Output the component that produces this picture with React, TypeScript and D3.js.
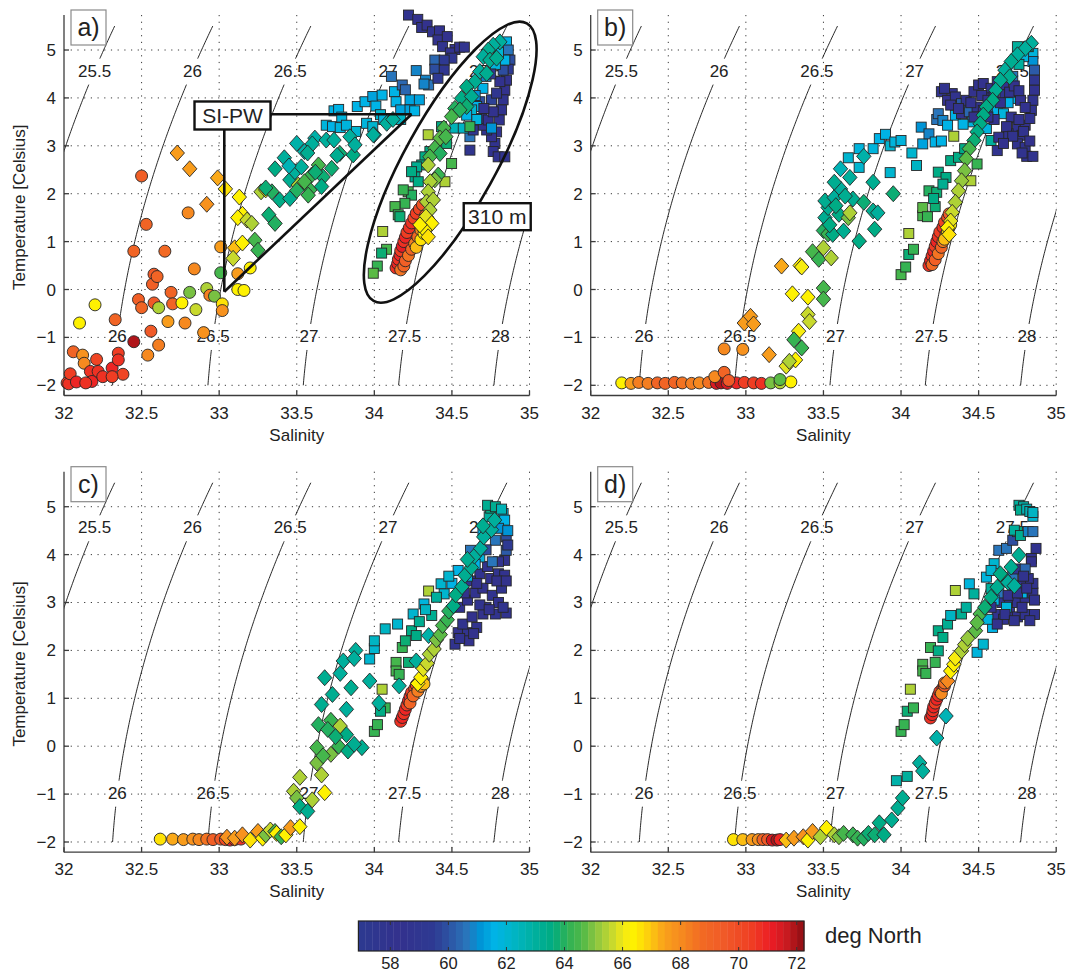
import * as d3 from "d3";

type Pt = [number, number, number]; // salinity, temperature, latitude (deg N)

const W = 1068;
const H = 973;
const PANEL_W = 465.5;
const PANEL_H = 380.5;
const FONT = '"Liberation Sans", Arial, Helvetica, sans-serif';
const INK = "#222";

const S_DOMAIN: [number, number] = [32, 35];
const T_DOMAIN: [number, number] = [-2.213, 5.731];
const S_TICKS = [32, 32.5, 33, 33.5, 34, 34.5, 35];
const T_TICKS = [-2, -1, 0, 1, 2, 3, 4, 5];
const SIGMA_LEVELS = [25.5, 26, 26.5, 27, 27.5, 28];
const SIGMA_T_RANGE: [number, number] = [-2, 5.5];
const LABEL_T = [4.57, -0.97];

const LAT_DOMAIN: [number, number] = [56.9, 72.25];
const LAT_TICKS = [58, 60, 62, 64, 66, 68, 70, 72];
const CMAP_STOPS = [56.9, 58.3, 59.5, 60.0, 60.6, 61.1, 61.6, 62.2, 62.9, 63.6, 64.1, 64.6, 65.1, 65.6, 66.05, 66.4, 66.9, 67.4, 68.0, 68.7, 69.5, 70.4, 71.1, 71.6, 72.25];
const CMAP_COLORS = ["#2c3a90", "#33318d", "#2e3a92", "#2d52a2", "#2a74ba", "#0094d6", "#00b4e7", "#00b5c8", "#00b0a2", "#00ab80", "#2eb155", "#4fb848", "#8dc63f", "#c2d730", "#f5ea14", "#fff200", "#fdcd0e", "#f9a31b", "#f68b1f", "#f26b23", "#f05a28", "#ef4023", "#ec1c24", "#cc1b21", "#8e0e12"];

// ---------- panel a
const A_CIRCLES: Pt[] = [
  [32.02, -1.95, 70.5], [32.03, -1.97, 70.8], [32.04, -1.76, 70.5], [32.08, -1.93, 71], [32.06, -1.3, 69],
  [32.12, -1.37, 67.8], [32.13, -1.54, 68], [32.1, -0.7, 66.4], [32.2, -0.32, 66.3], [32.21, -1.46, 70.2],
  [32.17, -1.71, 70.6], [32.18, -1.92, 71], [32.22, -1.71, 70.6], [32.25, -1.82, 70.8], [32.31, -1.64, 70.9],
  [32.35, -1.33, 70.4], [32.35, -1.47, 70.6], [32.38, -1.77, 70.3], [32.31, -1.82, 70.5], [32.14, -1.95, 70.6],
  [32.33, -0.63, 69], [32.45, -1.09, 72],
  [32.5, 2.37, 69.3], [32.53, 1.36, 69], [32.45, 0.8, 69], [32.48, -0.21, 69.2], [32.5, -0.38, 69],
  [32.58, 0.32, 69.5], [32.57, 0.11, 69.3], [32.6, 0.27, 69], [32.58, -0.28, 69.4], [32.56, -0.87, 69.5],
  [32.54, -1.37, 68], [32.61, -1.16, 68.2], [32.61, -0.38, 65.5], [32.65, 0.8, 68.7], [32.69, -0.06, 69],
  [32.7, -0.3, 69], [32.67, -0.67, 67.6], [32.76, -0.28, 66.4], [32.78, -0.7, 68], [32.81, -0.06, 65],
  [32.8, 1.6, 68], [32.84, 0.43, 68], [32.85, -0.42, 65.6], [32.9, -0.9, 67.8], [32.92, 0.02, 65.3],
  [32.94, -0.12, 68.3], [32.97, -0.14, 65], [33.01, 0.89, 67.5], [33.01, 0.35, 64.5], [33.02, -0.3, 66.6],
  [33.02, -0.44, 67.8], [33.12, 0.33, 67.5], [33.12, 0, 66.3], [33.16, -0.02, 66.3], [33.2, 0.45, 66.3],
  [34.14, 0.45, 70.8], [34.15, 0.54, 71], [34.155, 0.63, 70.6], [34.165, 0.72, 70.9], [34.17, 0.81, 70.5],
  [34.18, 0.9, 71.1], [34.19, 1.0, 70.7], [34.2, 1.09, 70.9], [34.21, 1.19, 70.5], [34.225, 1.29, 70.8],
  [34.24, 1.39, 70.6], [34.255, 1.49, 70.3], [34.27, 1.59, 70.5], [34.29, 1.68, 70.2], [34.31, 1.77, 69.8],
  [34.17, 0.41, 68.6], [34.19, 0.49, 68.9], [34.2, 0.6, 69.3], [34.22, 0.71, 68.5], [34.24, 0.84, 69],
  [34.26, 0.96, 68.3], [34.28, 1.1, 68.7], [34.3, 1.24, 68], [34.32, 1.41, 68.4], [34.33, 1.55, 69.2],
  [34.27, 0.88, 67.1], [34.3, 1.04, 66.5], [34.32, 1.17, 66.4], [34.34, 1.3, 66.8], [34.35, 1.44, 67.3],
];

const A_DIAMONDS: Pt[] = [
  [32.73, 2.85, 67.5], [32.81, 2.52, 67.6], [32.92, 1.78, 67.7], [32.99, 2.33, 67.3], [33.04, 2.1, 66.6],
  [33.13, 1.93, 66.4], [33.15, 1.57, 66.3], [33.12, 1.5, 66.4], [33.18, 1.45, 65.6], [33.21, 1.38, 65.5],
  [33.1, 0.87, 67.2], [33.15, 0.97, 66.3], [33.09, 0.65, 65.6], [33.23, 1.03, 64.5], [33.25, 0.82, 64.3],
  [33.27, 2.04, 65.5], [33.3, 2.08, 65.8], [33.34, 2.04, 64], [33.32, 1.56, 63.8], [33.36, 1.38, 64],
  [33.39, 1.87, 63.5], [33.456, 1.9, 63.3], [33.456, 2.29, 63.2], [33.51, 2.18, 65.3], [33.488, 2.46, 63],
  [33.53, 2.56, 63], [33.55, 2.88, 62.8], [33.617, 3.16, 62.7], [33.69, 3.12, 63], [33.596, 2.39, 64.2],
  [33.64, 2.6, 64.4], [33.67, 2.35, 63.8], [33.725, 2.53, 63.8], [33.585, 2.08, 64.2], [33.574, 1.97, 64.2],
  [33.66, 2.15, 63.6], [33.778, 2.84, 63.8], [33.864, 2.81, 63.6], [33.843, 3.19, 63], [33.875, 3.02, 63],
  [34.0, 3.23, 62.8], [34.08, 3.47, 63], [33.993, 3.23, 63], [34.12, 3.55, 63],
  [33.36, 2.52, 63.5], [33.42, 2.75, 63], [33.45, 2.58, 62.5], [33.5, 3.05, 62.8], [33.6, 3.04, 63],
  [33.57, 2.85, 63.3], [33.5, 2.07, 64], [33.55, 2.25, 64.5], [33.62, 2.45, 63.8], [33.74, 3.12, 63],
  [33.76, 2.8, 63.3], [33.3, 2.12, 63.8],
  [34.809, 5.17, 63], [34.766, 5.1, 63], [34.734, 5.0, 63.2], [34.702, 4.86, 63], [34.745, 4.79, 63.3],
  [34.788, 4.83, 63.3], [34.68, 4.55, 63], [34.724, 4.51, 63.2], [34.648, 4.34, 63.2], [34.595, 4.23, 63.5],
  [34.562, 3.99, 63.5], [34.627, 4.03, 63.2], [34.595, 3.82, 63.8], [34.519, 3.78, 64], [34.551, 3.75, 64],
  [34.498, 3.61, 64.5], [34.448, 3.37, 64.5], [34.423, 3.16, 64.8], [34.461, 3.19, 64.5], [34.39, 2.95, 64.5],
  [34.423, 2.84, 64], [34.358, 2.77, 64.5], [34.347, 2.6, 65.5], [34.412, 2.39, 64.3], [34.39, 2.29, 65],
  [34.36, 2.25, 65.5], [34.347, 2.04, 65.5], [34.337, 1.83, 65.5], [34.38, 1.87, 65.3], [34.358, 1.66, 65.4],
  [34.332, 1.52, 65.8], [34.37, 1.38, 66.3], [34.326, 1.24, 66.4], [34.294, 1.35, 66.4], [34.347, 1.1, 66.6],
];

const A_SQUARES: Pt[] = [
  [33.69, 3.43, 61.8], [33.73, 3.4, 61.6], [33.74, 3.73, 61.5], [33.77, 3.76, 61.6], [33.79, 3.6, 61.8],
  [33.78, 3.38, 61.8], [33.88, 3.3, 62], [33.89, 3.82, 61.5], [33.94, 3.92, 61.5], [33.95, 3.47, 61.8],
  [33.82, 3.43, 61.8], [33.99, 3.4, 62], [33.99, 4.03, 61.4], [34.01, 3.83, 61.5], [34.05, 4.06, 61.5],
  [34.04, 3.65, 62], [34.06, 3.55, 61.8], [34.13, 4.13, 61.5], [34.14, 3.92, 61.5], [34.17, 3.75, 61.3],
  [34.23, 3.96, 61.3], [34.29, 3.96, 61.3], [34.23, 3.75, 61.3], [34.26, 3.73, 61.5], [34.13, 3.57, 61.8],
  [34.17, 3.55, 62.3], [34.11, 4.45, 60.6], [34.18, 4.27, 60.4], [34.2, 4.17, 60.3], [34.27, 4.57, 60.8],
  [34.33, 4.37, 60.8], [34.35, 4.27, 60.5], [34.32, 4.29, 60.8],
  [34.22, 5.73, 58], [34.28, 5.64, 58.2], [34.305, 5.47, 58], [34.34, 5.52, 58.3], [34.375, 5.38, 58],
  [34.42, 5.4, 58.5], [34.41, 5.21, 58.2], [34.47, 5.28, 58.5], [34.44, 5.07, 58], [34.52, 5.01, 58.3],
  [34.49, 4.94, 58.5], [34.55, 5.06, 58.5], [34.58, 5.06, 58.7], [34.5, 4.83, 59], [34.39, 4.79, 60.3],
  [34.45, 4.79, 59.5], [34.39, 4.6, 60], [34.45, 4.58, 59], [34.41, 4.41, 59.5],
  [34.852, 5.17, 61.5], [34.863, 5.0, 60.5], [34.874, 4.79, 60], [34.863, 4.6, 59.5], [34.852, 4.37, 58.5],
  [34.841, 4.16, 58.2], [34.83, 3.96, 58], [34.82, 3.75, 58], [34.805, 3.54, 58], [34.788, 3.29, 58],
  [34.777, 3.05, 58], [34.766, 2.88, 58], [34.798, 2.77, 58], [34.841, 2.77, 58], [34.755, 3.19, 58.2],
  [34.724, 3.33, 58], [34.702, 3.43, 58.3], [34.691, 3.57, 58], [34.734, 3.54, 58.5], [34.766, 3.71, 58.5],
  [34.755, 3.96, 59.7], [34.788, 4.1, 59], [34.809, 4.34, 58.5], [34.83, 4.58, 60], [34.841, 4.79, 61.5],
  [34.68, 3.92, 60], [34.659, 3.82, 61.5], [34.627, 3.75, 62], [34.66, 3.55, 61.8], [34.616, 3.19, 60.5],
  [34.637, 3.33, 59], [34.595, 3.64, 61.5], [34.755, 3.37, 61], [34.706, 3.78, 58.5], [34.616, 2.91, 57.8],
  [34.8, 4.95, 62], [34.78, 4.7, 61.8], [34.72, 4.45, 60.8], [34.7, 4.2, 61.5], [34.75, 4.5, 59.5], [34.65, 4.05, 61],
  [34.519, 3.37, 62.5], [34.573, 3.37, 62.3], [34.616, 3.4, 64.2], [34.433, 3.4, 63.5],
  [34.466, 3.05, 63.8], [34.358, 2.88, 63.5], [34.326, 2.77, 63.5], [34.305, 2.6, 63.5], [34.273, 2.56, 63.3],
  [34.262, 2.35, 63.3], [34.24, 2.46, 63.5], [34.283, 2.25, 63.5], [34.218, 2.04, 64.5], [34.24, 1.97, 64],
  [34.186, 2.08, 64.3], [34.197, 1.8, 64.2], [34.133, 1.73, 64.5], [34.154, 1.56, 64.2], [34.165, 1.52, 63.8],
  [34.498, 2.63, 64.5], [34.455, 2.25, 65.3], [34.347, 3.23, 65.5], [34.054, 1.21, 65.5], [34.079, 0.84, 64.5],
  [34.047, 0.76, 63.8], [34.019, 0.49, 64.3], [33.993, 0.34, 64.8],
];

// ---------- panel b
const B_CIRCLES: Pt[] = [
  [32.2, -1.95, 66.4], [32.26, -1.96, 67.5], [32.31, -1.94, 68.2], [32.37, -1.96, 68.3], [32.43, -1.95, 69],
  [32.48, -1.96, 69], [32.54, -1.94, 69], [32.59, -1.95, 68.5], [32.65, -1.96, 68.2], [32.7, -1.95, 68],
  [32.76, -1.94, 68.5], [32.81, -1.96, 71.5], [32.84, -1.95, 72], [32.88, -1.96, 71.5], [32.94, -1.95, 71],
  [32.99, -1.94, 70.5], [33.05, -1.95, 70.5], [33.1, -1.96, 70.8], [33.16, -1.95, 65], [33.22, -1.95, 65.5],
  [33.29, -1.93, 66.3], [32.8, -1.82, 68], [32.86, -1.73, 69], [32.89, -1.9, 69.5], [32.86, -1.24, 68],
  [32.98, -1.25, 67.8], [33.22, -1.88, 64.8],
  [34.18, 0.5, 70.8], [34.19, 0.6, 71], [34.2, 0.7, 70.6], [34.21, 0.8, 70.9], [34.22, 0.9, 70.5],
  [34.23, 1.0, 71], [34.24, 1.1, 70.7], [34.25, 1.2, 70.5], [34.27, 1.3, 70.8], [34.28, 1.4, 70.3],
  [34.3, 1.5, 70], [34.31, 1.58, 69.6], [34.2, 0.52, 68.8], [34.22, 0.62, 69.2], [34.24, 0.75, 68.5],
  [34.26, 0.88, 68.9], [34.27, 1.0, 68.3], [34.29, 1.15, 68.6], [34.31, 1.3, 68], [34.3, 1.2, 66.6],
  [34.32, 1.35, 66.4], [34.28, 1.05, 67.2],
];

const B_DIAMONDS: Pt[] = [
  [32.99, -0.7, 67.5], [33.03, -0.56, 67.5], [33.05, -0.72, 67.5], [33.15, -1.36, 67.5], [33.23, 0.49, 67.3],
  [33.3, -0.09, 66.3], [33.35, 0.5, 66.3], [33.36, 0.47, 66.2], [33.4, -0.16, 66.4], [33.4, -0.52, 65.6],
  [33.41, -0.67, 65.6], [33.34, -0.87, 66.2], [33.31, -1.05, 64.3], [33.36, -1.22, 64.3], [33.26, -1.6, 65.8],
  [33.32, -1.47, 66.3], [33.28, -1.5, 65.5], [33.5, 0.03, 64.5], [33.5, -0.2, 64.5], [33.43, 0.79, 64.5],
  [33.47, 0.63, 64.3], [33.5, 0.87, 65.3], [33.55, 0.66, 65.5], [33.5, 1.23, 64], [33.53, 1.16, 64.2],
  [33.51, 1.5, 63.3], [33.53, 1.71, 63.3], [33.51, 1.85, 63.2], [33.57, 1.92, 63], [33.61, 2.1, 63],
  [33.57, 2.24, 63.2], [33.61, 2.52, 62.5], [33.67, 2.34, 63], [33.56, 1.15, 63.5], [33.6, 1.57, 63.5],
  [33.63, 1.22, 63.2], [33.66, 1.5, 65], [33.67, 1.6, 65.3], [33.69, 1.89, 63.2], [33.76, 2.78, 62.8],
  [33.76, 1.82, 63.8], [33.73, 1.01, 63.5], [33.82, 2.24, 63.2], [33.82, 1.64, 63.2], [33.85, 1.6, 63],
  [33.83, 1.26, 63.5], [33.95, 2.0, 63.7], [33.54, 1.35, 63.4], [33.58, 1.75, 63.6], [33.64, 1.95, 63.2],
  [34.84, 5.14, 63], [34.8, 5.03, 63.1], [34.75, 4.9, 63], [34.71, 4.76, 63.2], [34.67, 4.58, 63],
  [34.7, 4.44, 63.2], [34.64, 4.37, 63.3], [34.61, 4.16, 63.2], [34.59, 3.95, 63.4], [34.55, 3.81, 63.5],
  [34.53, 3.64, 63.4], [34.51, 3.46, 63.6], [34.49, 3.29, 63.5], [34.47, 3.11, 63.8], [34.44, 2.94, 64.5],
  [34.42, 2.73, 64.8], [34.41, 2.48, 65], [34.39, 2.27, 65.2], [34.37, 2.06, 65.4], [34.35, 1.82, 65.5],
  [34.33, 1.61, 65.6], [34.32, 1.43, 66], [34.3, 1.29, 66.4], [34.31, 1.15, 66.5],
];

const B_SQUARES: Pt[] = [
  [33.66, 2.75, 62], [33.73, 2.94, 61.8], [33.73, 2.55, 62], [33.82, 2.94, 61.8], [33.86, 3.15, 61.5],
  [33.9, 3.24, 61.5], [33.93, 3.0, 62], [33.93, 2.44, 62], [33.96, 3.08, 61.8], [34.0, 3.11, 61.8],
  [34.07, 2.85, 62], [34.1, 2.59, 62.3], [34.13, 3.39, 61], [34.14, 3.04, 61.3], [34.18, 3.25, 60.8],
  [34.22, 3.08, 61.5], [34.26, 3.1, 61.6], [34.23, 3.55, 60.5],
  [34.0, 0.31, 64.5], [34.03, 0.47, 64.3], [34.05, 0.73, 63.8], [34.08, 0.84, 64.2], [34.05, 1.17, 65.5],
  [34.14, 1.54, 64.5], [34.14, 1.71, 64.6], [34.17, 1.52, 64.2], [34.22, 1.73, 63.8], [34.18, 2.06, 64],
  [34.23, 2.03, 63.8], [34.24, 2.45, 63.5], [34.29, 2.34, 63.5], [34.32, 2.69, 63.6], [34.37, 2.76, 63.4],
  [34.34, 3.2, 65.5], [34.41, 2.94, 63.5], [34.49, 2.62, 64.2], [34.45, 2.27, 65.3], [34.27, 2.2, 63.3],
  [34.21, 1.9, 63.6],
  [34.26, 4.13, 58], [34.33, 4.09, 58.5], [34.3, 3.95, 58.2], [34.35, 4.02, 58], [34.39, 3.88, 60.2],
  [34.42, 3.95, 58], [34.47, 4.13, 58.3], [34.5, 4.27, 58], [34.53, 4.3, 58.2], [34.58, 4.2, 58],
  [34.62, 4.34, 58.4], [34.66, 4.23, 58], [34.24, 3.67, 60.5], [34.27, 3.53, 60.8], [34.3, 3.43, 61.5],
  [34.35, 3.64, 61.6], [34.39, 3.67, 58], [34.44, 3.71, 60.3], [34.49, 3.81, 58], [34.53, 3.74, 58.2],
  [34.58, 3.81, 60.3], [34.62, 3.74, 61.5], [34.66, 3.67, 61.7], [34.71, 3.6, 58], [34.75, 3.39, 58],
  [34.8, 3.43, 58.2], [34.78, 3.22, 58], [34.75, 3.04, 58], [34.8, 2.97, 58], [34.81, 2.78, 58],
  [34.85, 2.78, 58], [34.62, 2.9, 58], [34.69, 3.25, 58], [34.85, 4.93, 61.8], [34.85, 4.76, 61],
  [34.86, 4.58, 60.2], [34.86, 4.37, 59], [34.86, 4.16, 58.5], [34.85, 3.95, 58], [34.84, 3.74, 58],
  [34.83, 3.57, 58], [34.82, 5.07, 63.5], [34.75, 5.07, 63], [34.79, 4.86, 61.7], [34.76, 4.7, 63],
  [34.72, 4.45, 60.5], [34.67, 4.07, 58], [34.73, 3.99, 61.6], [34.77, 3.95, 58.3], [34.8, 3.8, 58.5],
  [34.69, 3.9, 61.5], [34.55, 3.36, 61.8], [34.58, 3.11, 63], [34.63, 3.18, 58], [34.46, 3.5, 61.8],
  [34.4, 3.45, 61.5], [34.57, 4.0, 58.2], [34.6, 3.55, 58.5],
  [34.28, 4.2, 58], [34.32, 3.85, 58.3], [34.37, 3.78, 58], [34.45, 3.9, 58.5], [34.52, 4.05, 58],
  [34.56, 3.95, 58.2], [34.6, 4.05, 58], [34.64, 3.9, 58.4], [34.7, 4.12, 58], [34.73, 4.25, 58.3],
  [34.76, 4.15, 58], [34.68, 3.4, 58.2], [34.72, 3.2, 58], [34.76, 3.55, 58.3], [34.79, 3.3, 58],
  [34.83, 3.1, 58.2], [34.78, 2.85, 58], [34.66, 3.05, 58.4], [34.56, 3.6, 58], [34.47, 3.6, 58.2],
];

// ---------- panel c
const C_CIRCLES: Pt[] = [
  [32.62, -1.94, 66.6], [32.7, -1.94, 67.3], [32.77, -1.95, 67.5], [32.83, -1.94, 67.8], [32.87, -1.95, 68],
  [32.92, -1.94, 68.5], [32.96, -1.95, 69.2], [33.01, -1.94, 69.5], [33.04, -1.95, 70], [33.07, -1.96, 71],
  [33.1, -1.95, 70.6], [33.14, -1.94, 70.8],
  [34.17, 0.52, 70.8], [34.18, 0.6, 71], [34.19, 0.68, 70.6], [34.2, 0.77, 70.9], [34.21, 0.86, 70.5],
  [34.22, 0.95, 71], [34.23, 1.04, 70.7], [34.24, 1.12, 70.5], [34.26, 1.2, 70.3], [34.27, 1.28, 70],
  [34.29, 1.35, 69.7], [34.23, 0.9, 69], [34.25, 1.05, 68.8], [34.28, 1.15, 68.4], [34.3, 1.25, 68],
  [34.31, 1.38, 68.5], [34.32, 1.3, 67],
];

const C_DIAMONDS: Pt[] = [
  [33.05, -1.9, 67.8], [33.1, -1.92, 67.5], [33.15, -1.85, 67.8], [33.2, -1.96, 66.5], [33.25, -1.78, 67.6],
  [33.28, -1.92, 66.4], [33.3, -1.85, 65], [33.33, -1.75, 65.6], [33.36, -1.78, 64.5], [33.37, -1.82, 66.4],
  [33.4, -1.89, 64.3], [33.43, -1.85, 66.3], [33.46, -1.7, 67.5], [33.52, -1.68, 66.3],
  [33.52, -0.65, 65.3], [33.48, -0.94, 65.3], [33.5, -1.08, 65], [33.52, -1.26, 63.5], [33.57, -1.36, 63.3],
  [33.6, -1.12, 65.5], [33.68, -0.97, 66.3], [33.66, -0.6, 65.5], [33.63, -0.35, 65], [33.63, -0.03, 64.5],
  [33.64, 0.45, 64], [33.72, 0.54, 64.3], [33.78, 0.42, 65.3], [33.77, 0.0, 64.2], [33.72, -0.17, 65],
  [33.67, -0.2, 64.5], [33.83, -0.1, 63.5], [33.92, -0.03, 63.2], [33.87, 0.04, 63.3], [33.82, 0.24, 63.5],
  [33.7, 0.35, 64], [33.75, 0.2, 63.8], [33.66, 0.87, 63.3], [33.73, 1.08, 63.3], [33.68, 1.43, 63.2],
  [33.78, 1.52, 63], [33.8, 1.78, 63], [33.85, 1.22, 63.2], [33.82, 0.77, 63], [33.88, 2.0, 63],
  [33.87, 1.83, 63], [33.97, 1.36, 63], [34.03, 0.9, 63], [34.16, 1.26, 63], [34.27, 1.78, 63],
  [34.35, 2.31, 62.8],
  [34.28, 1.31, 66.4], [34.3, 1.44, 66.3], [34.315, 1.62, 66], [34.34, 1.73, 65.6], [34.355, 1.92, 65.5],
  [34.385, 2.03, 65.3], [34.4, 2.22, 65], [34.425, 2.33, 64.8], [34.44, 2.52, 64.5], [34.47, 2.64, 64.3],
  [34.48, 2.82, 64], [34.51, 2.93, 63.6], [34.525, 3.16, 63.4], [34.565, 3.33, 63.3], [34.585, 3.57, 63.2],
  [34.625, 3.73, 63.2], [34.645, 3.97, 63], [34.685, 4.13, 63], [34.705, 4.37, 63], [34.755, 4.52, 63],
  [34.775, 4.72, 63], [34.6, 3.9, 63.3], [34.7, 4.6, 63.2],
];

const C_SQUARES: Pt[] = [
  [33.97, 1.82, 62], [34.0, 2.04, 62], [34.0, 2.2, 62.3], [34.07, 2.45, 62.3], [34.15, 2.55, 62],
  [34.05, 1.19, 65.5], [34.0, 0.31, 64.3], [34.02, 0.45, 64.3], [34.07, 0.8, 64.3], [34.04, 0.73, 63.5],
  [34.14, 1.75, 64.5], [34.14, 1.57, 64.5], [34.16, 1.5, 64.3], [34.18, 2.06, 64.2], [34.22, 1.75, 63.8],
  [34.24, 2.41, 63.5], [34.27, 2.31, 63.5], [34.25, 2.76, 62], [34.32, 2.97, 61.8], [34.35, 3.24, 65.5],
  [34.37, 2.73, 63.3], [34.43, 3.39, 62], [34.45, 3.18, 62], [34.4, 3.11, 63], [34.2, 2.2, 63.8],
  [34.29, 2.6, 63.2], [34.33, 2.85, 62.2],
  [34.52, 2.13, 58], [34.54, 2.37, 58.2], [34.6, 2.37, 58], [34.61, 2.2, 58.3], [34.66, 2.48, 58],
  [34.72, 2.9, 58], [34.78, 2.76, 58], [34.85, 2.78, 58], [34.7, 2.76, 58.3], [34.55, 2.9, 58],
  [34.6, 3.05, 58.5], [34.65, 3.2, 58], [34.7, 3.3, 58.2], [34.76, 3.15, 58], [34.8, 3.0, 58.5],
  [34.82, 3.3, 58], [34.75, 3.5, 58.3], [34.8, 3.6, 58], [34.84, 3.88, 58.5], [34.84, 3.57, 58.5],
  [34.68, 3.6, 58], [34.62, 3.45, 58], [34.58, 3.2, 58.3],
  [34.57, 2.55, 58], [34.63, 2.7, 58.2], [34.68, 2.95, 58], [34.74, 2.85, 58.3], [34.83, 2.9, 58],
  [34.79, 3.45, 58.2], [34.73, 3.75, 58], [34.66, 3.4, 58.3], [34.55, 2.25, 58], [34.64, 2.35, 58.2],
  [34.85, 3.45, 58.3], [34.8, 3.85, 58],
  [34.54, 3.67, 61.5], [34.62, 4.09, 60.5], [34.68, 3.95, 61.8], [34.74, 4.79, 63], [34.75, 4.97, 63.5],
  [34.73, 5.03, 63.2], [34.83, 4.86, 61.8], [34.84, 4.72, 61.6], [34.85, 4.37, 60], [34.85, 4.09, 60.2],
  [34.78, 4.3, 60.5], [34.72, 4.1, 60], [34.65, 3.8, 61.5], [34.7, 4.5, 61.5], [34.8, 4.55, 61],
  [34.6, 3.55, 61.8], [34.5, 3.4, 61.5], [34.48, 3.55, 62], [34.78, 5.0, 63.3], [34.82, 4.95, 62.5],
  [34.76, 3.85, 60.5], [34.86, 4.2, 59.5], [34.86, 4.5, 61.2],
];

// ---------- panel d
const D_CIRCLES: Pt[] = [
  [32.92, -1.95, 66.5], [32.98, -1.95, 67], [33.04, -1.95, 67.5], [33.08, -1.95, 67.7], [33.11, -1.95, 69],
  [33.14, -1.95, 69.5], [33.17, -1.96, 71.5], [33.2, -1.96, 72], [33.22, -1.95, 71],
  [34.19, 0.59, 70.8], [34.2, 0.66, 71], [34.205, 0.74, 70.6], [34.21, 0.82, 70.9], [34.22, 0.9, 70.5],
  [34.23, 0.98, 71], [34.24, 1.06, 70.7], [34.25, 1.14, 70.5], [34.27, 1.22, 70.3], [34.26, 1.1, 68],
  [34.28, 1.26, 69.5], [34.28, 1.32, 68.5],
];

const D_DIAMONDS: Pt[] = [
  [33.26, -1.96, 67], [33.31, -1.92, 67.5], [33.37, -1.89, 67.8], [33.4, -1.96, 66.3], [33.43, -1.78, 67.5],
  [33.48, -1.89, 65.5], [33.52, -1.71, 66.3], [33.57, -1.85, 65.4], [33.6, -1.89, 65], [33.63, -1.82, 64.5],
  [33.69, -1.85, 64.3], [33.72, -1.92, 64.2], [33.76, -1.92, 64], [33.79, -1.82, 63.8], [33.83, -1.85, 63.7],
  [33.86, -1.6, 63.5], [33.89, -1.85, 63.5], [33.94, -1.54, 63.3], [33.98, -1.29, 63.3], [34.01, -1.08, 63.3],
  [34.12, -0.35, 63], [34.14, -0.52, 63], [34.23, 0.17, 62.8], [34.29, 0.63, 62.6],
  [34.3, 1.36, 68], [34.32, 1.57, 66.4], [34.34, 1.71, 66.4], [34.35, 1.84, 66.2], [34.39, 1.99, 65.5],
  [34.41, 2.12, 65.4], [34.43, 2.25, 65.2], [34.48, 2.41, 64.8], [34.51, 2.76, 64.5], [34.49, 2.58, 64.6],
  [34.54, 2.9, 63.8], [34.58, 3.11, 63.5], [34.62, 3.32, 63.3], [34.66, 3.53, 63.3], [34.71, 3.74, 63.3],
  [34.76, 3.99, 63.2], [34.69, 3.42, 63], [34.73, 3.35, 63], [34.64, 3.6, 63.4],
];

const D_SQUARES: Pt[] = [
  [33.97, -0.72, 62.8], [34.04, -0.63, 63], [34.0, 0.31, 64.3], [34.02, 0.45, 64.3], [34.04, 0.73, 63.8],
  [34.08, 0.8, 64.3], [34.06, 1.19, 65.5], [34.14, 1.71, 64.4], [34.14, 1.57, 64.5], [34.16, 1.52, 64.3],
  [34.22, 1.75, 64.2], [34.19, 2.06, 64.3], [34.24, 1.99, 63.5], [34.24, 2.41, 63.5], [34.27, 2.27, 63.5],
  [34.3, 2.55, 63.2], [34.32, 2.73, 62.3], [34.35, 3.25, 65.5], [34.39, 2.76, 63.2], [34.42, 2.9, 63],
  [34.44, 3.39, 61.8], [34.47, 3.18, 63], [34.49, 1.96, 61.8], [34.53, 2.13, 62], [34.55, 3.53, 61.8],
  [34.6, 3.81, 62], [34.58, 3.67, 62], [34.58, 3.29, 63], [34.63, 4.09, 60.5], [34.68, 4.13, 60.5],
  [34.72, 4.3, 59.8], [34.75, 4.48, 63.5], [34.73, 4.51, 63], [34.77, 4.4, 63.3],
  [34.76, 5.03, 63], [34.79, 5.0, 62.8], [34.77, 4.93, 63.2], [34.81, 4.95, 62.5], [34.83, 4.9, 62.5],
  [34.85, 4.8, 62], [34.85, 4.88, 62.3], [34.82, 4.48, 60.8], [34.85, 4.48, 60.5], [34.87, 4.13, 58],
  [34.84, 3.92, 58], [34.84, 3.85, 58.3],
  [34.6, 2.6, 58], [34.62, 2.75, 58.3], [34.66, 2.65, 58], [34.7, 2.8, 58], [34.75, 2.7, 58.2],
  [34.8, 2.75, 58], [34.86, 2.75, 58], [34.65, 3.0, 58], [34.7, 3.05, 58.5], [34.75, 3.0, 58],
  [34.8, 3.1, 58.3], [34.85, 3.2, 58], [34.85, 3.4, 58], [34.82, 3.5, 58.5], [34.72, 3.3, 58],
  [34.68, 3.45, 58], [34.77, 3.35, 58.3], [34.63, 3.2, 60.5], [34.6, 3.05, 61.6], [34.72, 3.55, 60.5],
  [34.58, 2.9, 58], [34.59, 2.48, 61.6], [34.56, 2.65, 61.8], [34.78, 3.2, 61.5], [34.68, 2.9, 61.7],
  [34.74, 3.7, 58.5], [34.8, 3.7, 60.3],
  [34.62, 2.55, 58.3], [34.67, 2.75, 58], [34.73, 2.62, 58], [34.78, 2.9, 58.2], [34.83, 2.62, 58],
  [34.69, 3.15, 58.3], [34.75, 3.2, 58], [34.81, 3.3, 58.4], [34.86, 3.05, 58], [34.79, 3.55, 58],
];

const PANELS = [
  { key: "a", x0: 64, y0: 15, yTitle: true, circles: A_CIRCLES, diamonds: A_DIAMONDS, squares: A_SQUARES },
  { key: "b", x0: 590.7, y0: 15, yTitle: false, circles: B_CIRCLES, diamonds: B_DIAMONDS, squares: B_SQUARES },
  { key: "c", x0: 64, y0: 471.7, yTitle: true, circles: C_CIRCLES, diamonds: C_DIAMONDS, squares: C_SQUARES },
  { key: "d", x0: 590.7, y0: 471.7, yTitle: false, circles: D_CIRCLES, diamonds: D_DIAMONDS, squares: D_SQUARES },
];

// annotation anchors for panel a, in (salinity, temperature)
const SIPW_BOX: [number, number] = [33.086, 3.633];
const SIPW_APEX: [number, number] = [34.24, 3.66];
const SIPW_FOOT: [number, number] = [33.033, -0.046];
const ELLIPSE_310: [number, number] = [34.489, 2.658];
const BOX_310: [number, number] = [34.792, 1.52];

// UNESCO EOS-80 potential density anomaly at p = 0
function sigma0(S: number, T: number) {
  const rw = 999.842594 + 6.793952e-2 * T - 9.09529e-3 * T ** 2 + 1.001685e-4 * T ** 3 - 1.120083e-6 * T ** 4 + 6.536332e-9 * T ** 5;
  const A = 8.24493e-1 - 4.0899e-3 * T + 7.6438e-5 * T ** 2 - 8.2467e-7 * T ** 3 + 5.3875e-9 * T ** 4;
  const B = -5.72466e-3 + 1.0227e-4 * T - 1.6546e-6 * T ** 2;
  const C = 4.8314e-4;
  return rw + A * S + B * S ** 1.5 + C * S * S - 1000;
}

function isoSalinity(level: number, T: number) {
  let lo = 25, hi = 40;
  for (let i = 0; i < 50; i++) {
    const mid = (lo + hi) / 2;
    if (sigma0(mid, T) < level) lo = mid;
    else hi = mid;
  }
  return (lo + hi) / 2;
}

const CONTOURS = SIGMA_LEVELS.map((level) => ({
  level,
  pts: d3.range(SIGMA_T_RANGE[0], SIGMA_T_RANGE[1] + 1e-9, 0.05).map((T) => [isoSalinity(level, T), T] as [number, number]),
  labels: LABEL_T.map((T) => [isoSalinity(level, T), T] as [number, number]).filter(([s]) => s > 32.05 && s < 34.95),
}));

const cmap = d3.scaleLinear<string>().domain(CMAP_STOPS).range(CMAP_COLORS).interpolate(d3.interpolateRgb).clamp(true);
const N_BANDS = 64;
const BAND = (LAT_DOMAIN[1] - LAT_DOMAIN[0]) / N_BANDS;
function latColor(lat: number) {
  const i = Math.max(0, Math.min(N_BANDS - 1, Math.floor((lat - LAT_DOMAIN[0]) / BAND)));
  return cmap(LAT_DOMAIN[0] + (i + 0.5) * BAND);
}

const fmt = (v: number) => (v < 0 ? "\u2212" + Math.abs(v) : String(v));

const MARK_STROKE = "#262626";

function Panel({ p }: { p: (typeof PANELS)[number] }) {
  const x = d3.scaleLinear().domain(S_DOMAIN).range([0, PANEL_W]);
  const y = d3.scaleLinear().domain(T_DOMAIN).range([PANEL_H, 0]);
  const line = d3.line<[number, number]>().x((d) => x(d[0])).y((d) => y(d[1]));
  const clipId = `clip-${p.key}`;
  const maskId = `mask-${p.key}`;
  const labelFs = 17;

  const labels = CONTOURS.flatMap((c) =>
    c.labels.map(([s, t]) => ({ text: String(c.level), cx: x(s), cy: y(t) }))
  );

  return (
    <g transform={`translate(${p.x0},${p.y0})`}>
      <defs>
        <clipPath id={clipId}>
          <rect x={0} y={0} width={PANEL_W} height={PANEL_H} />
        </clipPath>
        <mask id={maskId} maskUnits="userSpaceOnUse" x={-20} y={-20} width={PANEL_W + 40} height={PANEL_H + 40}>
          <rect x={-20} y={-20} width={PANEL_W + 40} height={PANEL_H + 40} fill="white" />
          {labels.map((l, i) => {
            const w = l.text.length * 0.556 * labelFs + 4;
            return <rect key={i} x={l.cx - w / 2} y={l.cy - 12} width={w} height={26} fill="black" />;
          })}
        </mask>
      </defs>

      {/* dotted grid */}
      <g stroke="#3a3a3a" strokeWidth={1} strokeDasharray="1.2 5.5" fill="none">
        {T_TICKS.map((t) => (
          <line key={`gy${t}`} x1={0} x2={PANEL_W} y1={y(t)} y2={y(t)} />
        ))}
        {S_TICKS.filter((s) => s > 32).map((s) => (
          <line key={`gx${s}`} x1={x(s)} x2={x(s)} y1={0} y2={PANEL_H} />
        ))}
      </g>

      {/* isopycnals */}
      <g clipPath={`url(#${clipId})`}>
        <g mask={`url(#${maskId})`} fill="none" stroke="#111" strokeWidth={0.9}>
          {CONTOURS.map((c) => (
            <path key={c.level} d={line(c.pts) || ""} />
          ))}
        </g>
      </g>
      <g fontFamily={FONT} fontSize={labelFs} fill={INK} textAnchor="middle">
        {labels.map((l, i) => (
          <text key={i} x={l.cx} y={l.cy + 6}>
            {l.text}
          </text>
        ))}
      </g>

      {/* axes */}
      <g stroke="#3c3c3c" strokeWidth={1.3} fill="none">
        <line x1={0} x2={0} y1={0} y2={PANEL_H} />
        <line x1={0} x2={PANEL_W} y1={PANEL_H} y2={PANEL_H} />
        {T_TICKS.map((t) => (
          <line key={`ty${t}`} x1={0} x2={5} y1={y(t)} y2={y(t)} />
        ))}
        {S_TICKS.map((s) => (
          <line key={`tx${s}`} x1={x(s)} x2={x(s)} y1={PANEL_H} y2={PANEL_H - 5} />
        ))}
      </g>
      <g fontFamily={FONT} fontSize={17} fill={INK}>
        {T_TICKS.map((t) => (
          <text key={`ly${t}`} x={-8} y={y(t) + 6} textAnchor="end">
            {fmt(t)}
          </text>
        ))}
        {S_TICKS.map((s) => (
          <text key={`lx${s}`} x={x(s)} y={PANEL_H + 23} textAnchor="middle">
            {fmt(s)}
          </text>
        ))}
        <text x={PANEL_W / 2} y={PANEL_H + 45} textAnchor="middle" fontSize={17}>
          Salinity
        </text>
        {p.yTitle && (
          <text transform={`translate(-39,${PANEL_H / 2 + 2}) rotate(-90)`} textAnchor="middle" fontSize={17}>
            Temperature [Celsius]
          </text>
        )}
      </g>

      {/* markers */}
      <g stroke={MARK_STROKE} strokeWidth={0.9}>
        {p.squares.map((d, i) => (
          <rect key={`s${i}`} x={x(d[0]) - 5} y={y(d[1]) - 5} width={10} height={10} fill={latColor(d[2])} />
        ))}
        {p.circles.map((d, i) => (
          <circle key={`c${i}`} cx={x(d[0])} cy={y(d[1])} r={6} fill={latColor(d[2])} />
        ))}
        {p.diamonds.map((d, i) => {
          const cx = x(d[0]);
          const cy = y(d[1]);
          return (
            <path
              key={`d${i}`}
              d={`M${cx},${cy - 8}L${cx + 7.2},${cy}L${cx},${cy + 8}L${cx - 7.2},${cy}Z`}
              fill={latColor(d[2])}
            />
          );
        })}
      </g>

      {p.key === "a" && (
        <g fontFamily={FONT} fill="none" stroke="#111" strokeWidth={2.6}>
          <line x1={x(SIPW_FOOT[0])} y1={y(SIPW_BOX[1])} x2={x(SIPW_FOOT[0])} y2={y(SIPW_FOOT[1])} />
          <line x1={x(SIPW_BOX[0])} y1={y(SIPW_APEX[1])} x2={x(SIPW_APEX[0])} y2={y(SIPW_APEX[1])} />
          <line x1={x(SIPW_FOOT[0])} y1={y(SIPW_FOOT[1])} x2={x(SIPW_APEX[0])} y2={y(SIPW_APEX[1])} />
          <ellipse
            cx={x(ELLIPSE_310[0])}
            cy={y(ELLIPSE_310[1])}
            rx={158.5}
            ry={45.6}
            transform={`rotate(-61.1,${x(ELLIPSE_310[0])},${y(ELLIPSE_310[1])})`}
          />
          <rect x={x(SIPW_BOX[0]) - 38} y={y(SIPW_BOX[1]) - 14} width={76} height={28} fill="#fff" strokeWidth={2.4} />
          <text x={x(SIPW_BOX[0])} y={y(SIPW_BOX[1]) + 7.5} textAnchor="middle" fontSize={21} fill={INK} stroke="none">
            SI-PW
          </text>
          <rect x={x(BOX_310[0]) - 33.5} y={y(BOX_310[1]) - 13.5} width={67} height={27} fill="#fff" strokeWidth={2.4} />
          <text x={x(BOX_310[0])} y={y(BOX_310[1]) + 7.5} textAnchor="middle" fontSize={21} fill={INK} stroke="none">
            310 m
          </text>
        </g>
      )}

      {/* panel tag */}
      <rect x={7} y={-5} width={35} height={35} fill="#fff" stroke="#8a8a8a" strokeWidth={1.2} />
      <text x={24.5} y={21} textAnchor="middle" fontFamily={FONT} fontSize={25} fill={INK}>
        {p.key})
      </text>
    </g>
  );
}

function Colorbar() {
  const x0 = 358.4;
  const x1 = 804;
  const y0 = 921;
  const h = 30;
  const cx = d3.scaleLinear().domain(LAT_DOMAIN).range([x0, x1]);
  const bands = d3.range(N_BANDS).map((i) => LAT_DOMAIN[0] + i * BAND);
  return (
    <g>
      {bands.map((b, i) => (
        <rect key={i} x={cx(b)} y={y0} width={cx(b + BAND) - cx(b) + 0.4} height={h} fill={latColor(b + BAND / 2)} />
      ))}
      <rect x={x0} y={y0} width={x1 - x0} height={h} fill="none" stroke="#222" strokeWidth={1.2} />
      <g stroke="#333" strokeWidth={1}>
        {LAT_TICKS.map((t) => (
          <g key={t}>
            <line x1={cx(t)} x2={cx(t)} y1={y0} y2={y0 + 4} />
            <line x1={cx(t)} x2={cx(t)} y1={y0 + h} y2={y0 + h - 4} />
          </g>
        ))}
      </g>
      <g fontFamily={FONT} fontSize={16.5} fill={INK} textAnchor="middle">
        {LAT_TICKS.map((t) => (
          <text key={t} x={cx(t)} y={y0 + h + 18}>
            {t}
          </text>
        ))}
      </g>
      <text x={825} y={y0 + 22} fontFamily={FONT} fontSize={22} fill={INK}>
        deg North
      </text>
    </g>
  );
}

export default function App() {
  return (
    <div>
      <style>{"body{margin:0;background:#fff}"}</style>
      <svg width={W} height={H} viewBox={`0 0 ${W} ${H}`} style={{ display: "block", background: "#fff" }}>
        {PANELS.map((p) => (
          <Panel key={p.key} p={p} />
        ))}
        <Colorbar />
      </svg>
    </div>
  );
}
